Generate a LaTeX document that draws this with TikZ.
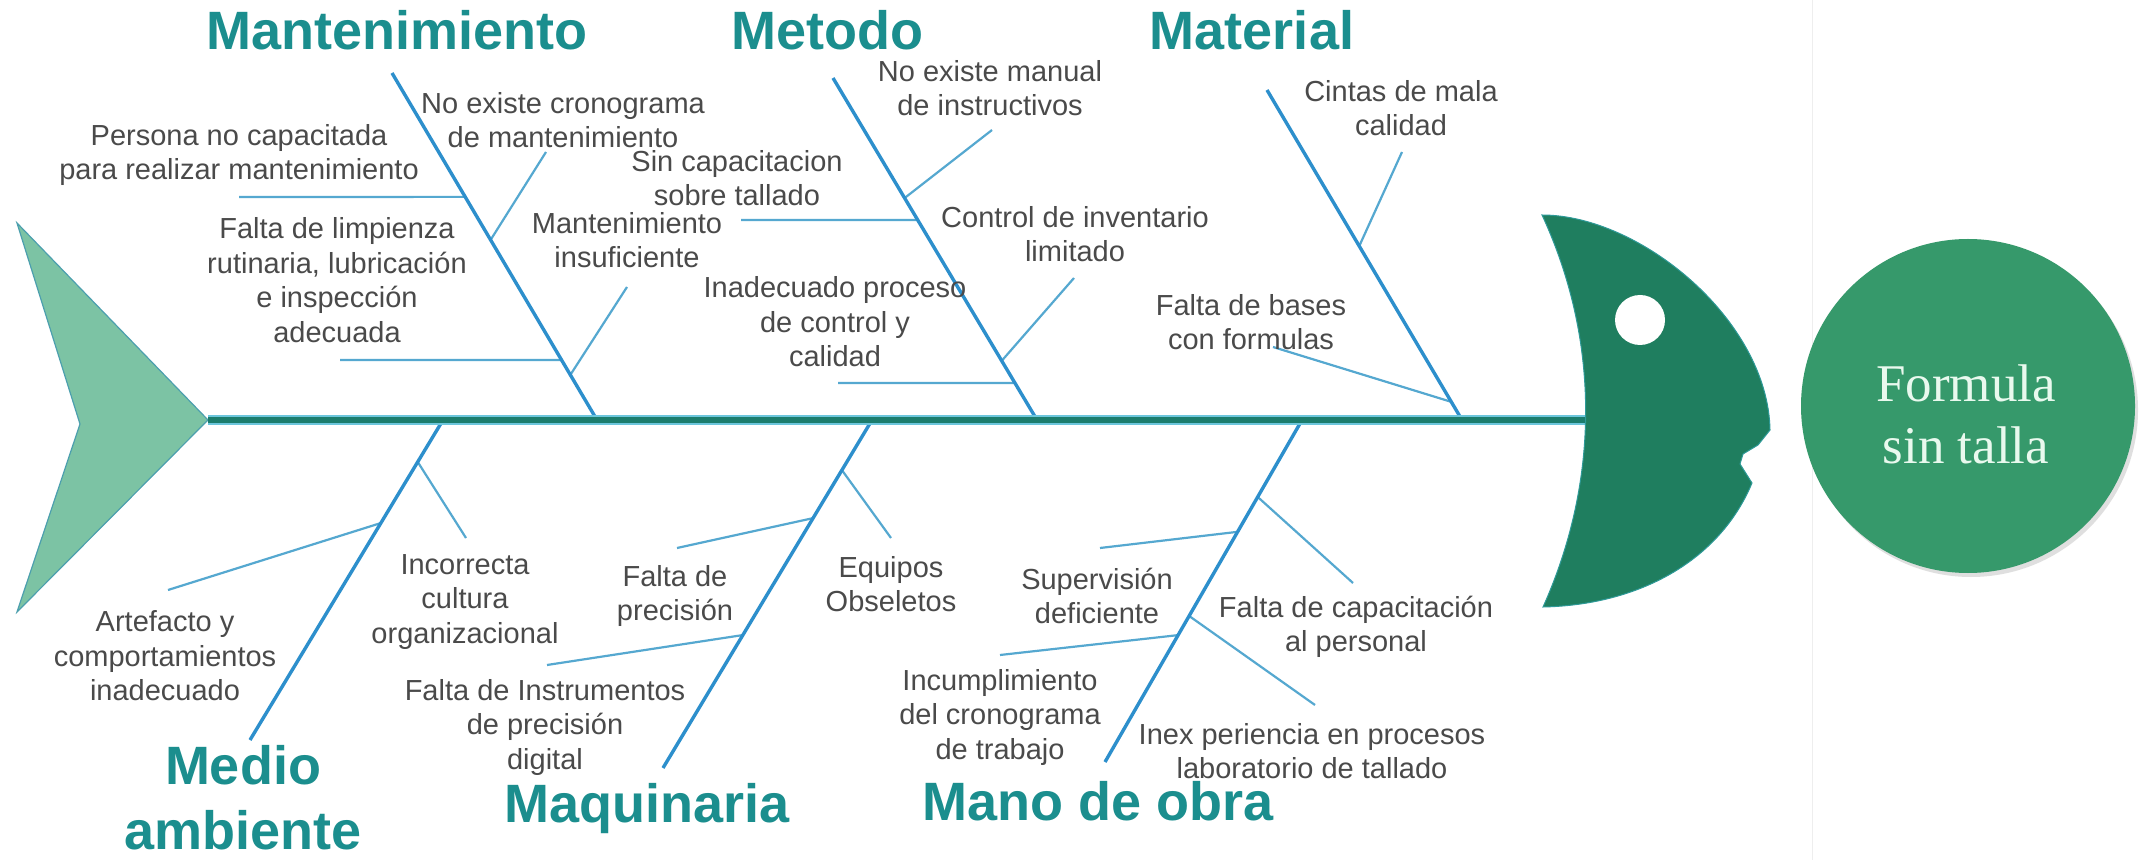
\documentclass[tikz,border=0pt]{standalone}
\usepackage{fontspec}
\setmainfont{Liberation Sans}
\newfontfamily\resultfont{Liberation Serif}
\usetikzlibrary{calc,shadows}

\definecolor{spinecore}{HTML}{1C7D6D}
\definecolor{spineedge}{HTML}{6CC6DC}
\definecolor{bonecol}{HTML}{2D8FCC}
\definecolor{twigcol}{HTML}{55A8D0}
\definecolor{tailfill}{HTML}{7CC3A4}
\definecolor{tailedge}{HTML}{4C9FAE}
\definecolor{headfill}{HTML}{1F7E5F}
\definecolor{headedge}{HTML}{2E9A98}
\definecolor{circlefill}{HTML}{36996B}
\definecolor{circletext}{HTML}{E9F9EE}
\definecolor{titlecol}{HTML}{1B8E8E}
\definecolor{labelcol}{HTML}{4A4A4A}
\definecolor{faintline}{HTML}{EEEEEE}

\begin{document}
\begin{tikzpicture}[x=0.5pt,y=-0.5pt,
  lbl/.style={font=\fontsize{14.5}{17.25}\selectfont, text=labelcol, align=center, inner sep=0pt},
  ttl/.style={font=\fontsize{27}{32.5}\selectfont\bfseries, text=titlecol, inner sep=0pt},
  bone/.style={draw=bonecol, line width=1.7pt},
  twig/.style={draw=twigcol, line width=1.1pt},
]
\useasboundingbox (0,0) rectangle (2151,860);
\fill[white] (0,0) rectangle (2151,860);
\draw[faintline, line width=0.5pt] (1812,0) -- (1812,860);

% ---------- tail ----------
\filldraw[fill=tailfill, draw=tailedge, line width=0.6pt]
  (17,223) -- (208,420) -- (17,612) -- (80,424) -- cycle;

% ---------- bone end points ----------
\coordinate (tailtip) at (208,420);
\coordinate (headback) at (1586,420);
\coordinate (b1s) at (392,73);   \coordinate (b1e) at (597,420);
\coordinate (b2s) at (833,78);   \coordinate (b2e) at (1037,420);
\coordinate (b3s) at (1267,90);  \coordinate (b3e) at (1462,420);
\coordinate (b4s) at (443,420);  \coordinate (b4e) at (250,740);
\coordinate (b5s) at (872,420);  \coordinate (b5e) at (663,768);
\coordinate (b6s) at (1302,420); \coordinate (b6e) at (1105,762);

% free ends of the small twigs
\coordinate (f1) at (239,197);
\coordinate (f2) at (340,360);
\coordinate (f3) at (546,152);
\coordinate (f4) at (627,287);
\coordinate (f5) at (741,220);
\coordinate (f6) at (838,383);
\coordinate (f7) at (992,130);
\coordinate (f8) at (1074,278);
\coordinate (f9) at (1402,152);
\coordinate (f10) at (1273,347);
\coordinate (f11) at (168,590);
\coordinate (f12) at (466,538);
\coordinate (f13) at (677,548);
\coordinate (f14) at (547,665);
\coordinate (f15) at (891,538);
\coordinate (f16) at (1100,548);
\coordinate (f17) at (1000,655);
\coordinate (f18) at (1353,583);
\coordinate (f19) at (1315,705);

% ---------- twigs ----------
\draw[twig] (f1) -- ($(b1s)!0.357!(b1e)$);
\draw[twig] (f2) -- ($(b1s)!0.827!(b1e)$);
\draw[twig] (f3) -- ($(b1s)!0.481!(b1e)$);
\draw[twig] (f4) -- ($(b1s)!0.870!(b1e)$);
\draw[twig] (f5) -- ($(b2s)!0.415!(b2e)$);
\draw[twig] (f6) -- ($(b2s)!0.892!(b2e)$);
\draw[twig] (f7) -- ($(b2s)!0.351!(b2e)$);
\draw[twig] (f8) -- ($(b2s)!0.827!(b2e)$);
\draw[twig] (f9) -- ($(b3s)!0.473!(b3e)$);
\draw[twig] (f10) -- ($(b3s)!0.945!(b3e)$);
\draw[twig] (f11) -- ($(b4s)!0.322!(b4e)$);
\draw[twig] (f12) -- ($(b4s)!0.131!(b4e)$);
\draw[twig] (f13) -- ($(b5s)!0.282!(b5e)$);
\draw[twig] (f14) -- ($(b5s)!0.618!(b5e)$);
\draw[twig] (f15) -- ($(b5s)!0.144!(b5e)$);
\draw[twig] (f16) -- ($(b6s)!0.327!(b6e)$);
\draw[twig] (f17) -- ($(b6s)!0.629!(b6e)$);
\draw[twig] (f18) -- ($(b6s)!0.225!(b6e)$);
\draw[twig] (f19) -- ($(b6s)!0.573!(b6e)$);

% ---------- main bones ----------
\draw[bone] (b1s) -- (b1e);
\draw[bone] (b2s) -- (b2e);
\draw[bone] (b3s) -- (b3e);
\draw[bone] (b4s) -- (b4e);
\draw[bone] (b5s) -- (b5e);
\draw[bone] (b6s) -- (b6e);

% ---------- spine ----------
\draw[spineedge, line width=4.8pt] (tailtip) -- (headback);
\draw[spinecore, line width=3pt] (tailtip) -- (headback);

% ---------- head ----------
\filldraw[fill=headfill, draw=headedge, line width=0.5pt]
  (1542,215) .. controls (1640,215) and (1768,320) .. (1770,430)
  -- (1758,445) -- (1743,454) -- (1740,464) -- (1752,483)
  .. controls (1720,560) and (1640,605) .. (1543,607)
  .. controls (1600,480) and (1600,340) .. (1542,215) -- cycle;
\fill[white] (1640,320) circle[radius=12.5pt];

% ---------- effect ----------
\node[circle, fill=circlefill, minimum size=167pt, inner sep=0pt,
      drop shadow={shadow xshift=1.5pt, shadow yshift=-2pt, opacity=0.25}]
  (result) at (1968,406) {};
\node[font=\resultfont\fontsize{26.5}{31}\selectfont, text=circletext,
      align=center, inner sep=0pt] (resulttext) at (1966,414) {Formula\\sin talla};

% ---------- category titles ----------
\node[ttl, anchor=base] (tMant) at (397,50) {Mantenimiento};
\node[ttl, anchor=base] (tMet) at (827,50) {Metodo};
\node[ttl, anchor=base] (tMat) at (1252,50) {Material};
\node[ttl, anchor=south, align=center] (tMed) at (243,850) {Medio\\ambiente};
\node[ttl, anchor=base] (tMaq) at (647,822) {Maquinaria};
\node[ttl, anchor=base] (tMano) at (1098,820) {Mano de obra};

% ---------- causes ----------
\node[lbl] (c1) at (239,155) {Persona no capacitada\\para realizar mantenimiento};
\node[lbl] (c2) at (563,120) {No existe cronograma\\de mantenimiento};
\node[lbl] (c3) at (337,280) {Falta de limpienza\\rutinaria, lubricación\\e inspección\\adecuada};
\node[lbl] (c4) at (627,240) {Mantenimiento\\insuficiente};
\node[lbl] (c5) at (990,88) {No existe manual\\de instructivos};
\node[lbl] (c6) at (737,178) {Sin capacitacion\\sobre tallado};
\node[lbl] (c7) at (1075,234) {Control de inventario\\limitado};
\node[lbl] (c8) at (835,322) {Inadecuado proceso\\de control y\\calidad};
\node[lbl] (c9) at (1401,108) {Cintas de mala\\calidad};
\node[lbl] (c10) at (1251,322) {Falta de bases\\con formulas};
\node[lbl] (c11) at (165,656) {Artefacto y\\comportamientos\\inadecuado};
\node[lbl] (c12) at (465,602) {Incorrecta\\cultura\\organizacional};
\node[lbl] (c13) at (675,596) {Falta de\\precisión};
\node[lbl] (c14) at (545,727) {Falta de Instrumentos\\de precisión\\digital};
\node[lbl] (c15) at (891,584) {Equipos\\Obseletos};
\node[lbl] (c16) at (1097,596) {Supervisión\\deficiente};
\node[lbl] (c17) at (1000,717) {Incumplimiento\\del cronograma\\de trabajo};
\node[lbl] (c18) at (1356,627) {Falta de capacitación\\al personal};
\node[lbl] (c19) at (1312,751) {Inex periencia en procesos\\laboratorio de tallado};
\end{tikzpicture}
\end{document}
